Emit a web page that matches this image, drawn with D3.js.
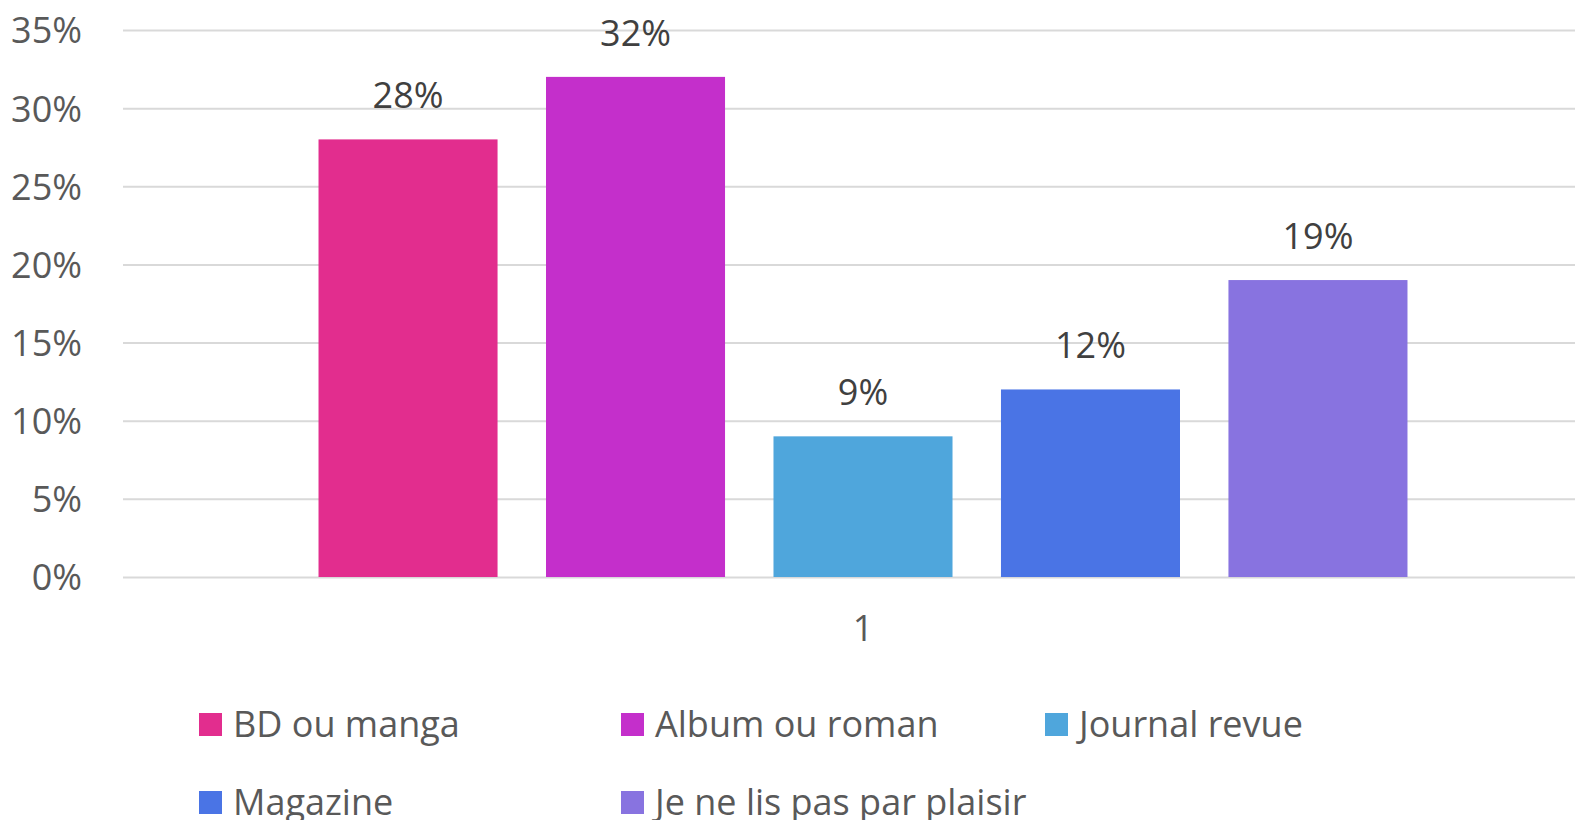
<!DOCTYPE html>
<html><head><meta charset="utf-8">
<script src="https://cdn.jsdelivr.net/npm/d3@7"></script>
<style>html,body{margin:0;padding:0;background:#fff;overflow:hidden}svg{display:block}</style>
</head><body>
<script>
const categories = ["1"];
const seriesNames = ["BD ou manga", "Album ou roman", "Journal revue", "Magazine", "Je ne lis pas par plaisir"];
const seriesValues = [0.28, 0.32, 0.09, 0.12, 0.19];
const seriesColors = ["#E22D8E", "#C42FCB", "#4FA6DC", "#4A74E5", "#8873E0"];
const yTicks = [0, 0.05, 0.10, 0.15, 0.20, 0.25, 0.30, 0.35];

const W = 1575, H = 820;
const FONT = "'Open Sans', Lato, 'Liberation Sans', sans-serif";
const FS = 36;
const svg = d3.select("body").append("svg").attr("width", W).attr("height", H);

const y = d3.scaleLinear().domain([0, 0.35]).range([577, 30]);
const x0 = d3.scaleBand().domain(categories).range([123, 1603]).paddingInner(0).paddingOuter(0.1506);
const x1 = d3.scaleBand().domain(seriesNames).range([0, x0.bandwidth()]).paddingInner(0.213).paddingOuter(0.1065);

// gridlines
const yAxis = d3.axisLeft(y).tickValues(yTicks).tickFormat(d3.format(".0%")).tickSize(-(1603 - 123)).tickPadding(41);
const ga = svg.append("g").attr("transform", "translate(123,0)").call(yAxis);
ga.select(".domain").remove();
ga.selectAll(".tick line").attr("stroke", "#d9d9d9").attr("stroke-width", 2);
ga.selectAll(".tick text").attr("fill", "#595959").attr("font-family", FONT).attr("font-size", FS).attr("dy", "0.36em");

// bars
const g = svg.append("g").attr("transform", `translate(${x0(categories[0])},0)`);
g.selectAll("rect").data(seriesNames).join("rect")
  .attr("x", d => x1(d))
  .attr("y", (d, i) => y(seriesValues[i]))
  .attr("width", x1.bandwidth())
  .attr("height", (d, i) => y(0) - y(seriesValues[i]))
  .attr("fill", (d, i) => seriesColors[i]);

// value labels
g.selectAll("text.val").data(seriesNames).join("text").attr("class", "val")
  .attr("x", d => x1(d) + x1.bandwidth() / 2)
  .attr("y", (d, i) => y(seriesValues[i]) - 31)
  .attr("text-anchor", "middle")
  .attr("fill", "#404040").attr("font-family", FONT).attr("font-size", FS)
  .text((d, i) => d3.format(".0%")(seriesValues[i]));

// category axis label
svg.append("g").selectAll("text").data(categories).join("text")
  .attr("x", d => x0(d) + x0.bandwidth() / 2)
  .attr("y", 641)
  .attr("text-anchor", "middle")
  .attr("fill", "#595959").attr("font-family", FONT).attr("font-size", FS)
  .text(d => d);

// legend
const legX = [199, 621, 1045];
const legY = [713, 791];
const lg = svg.append("g").selectAll("g").data(seriesNames).join("g")
  .attr("transform", (d, i) => `translate(${legX[i % 3]},${legY[Math.floor(i / 3)]})`);
lg.append("rect").attr("width", 23).attr("height", 23).attr("fill", (d, i) => seriesColors[i]);
lg.append("text").attr("x", 34).attr("y", 24)
  .attr("fill", "#595959").attr("font-family", FONT).attr("font-size", FS)
  .text(d => d);
</script>
</body></html>
